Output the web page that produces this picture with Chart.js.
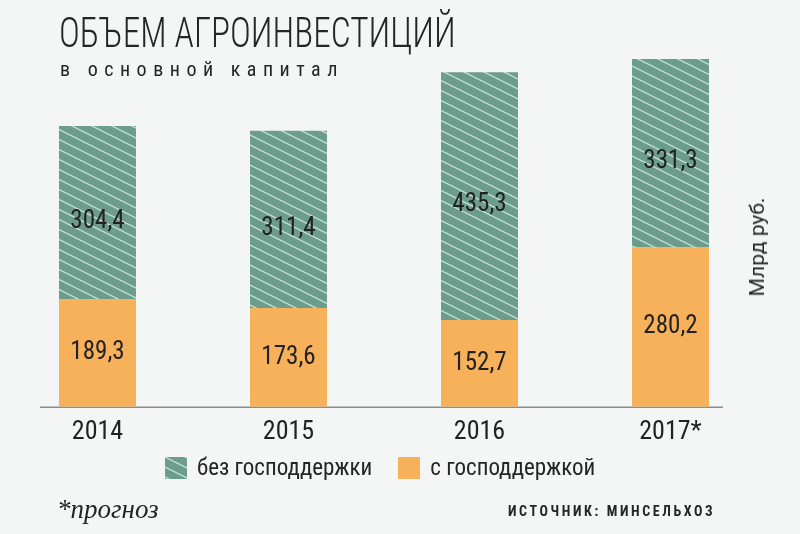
<!DOCTYPE html>
<html>
<head>
<meta charset="utf-8">
<script src="https://cdn.jsdelivr.net/npm/chart.js@4"></script>
<style>
  body { margin: 0; background: #f4f6f5; }
  #wrap { position: relative; width: 800px; height: 534px; overflow: hidden; font-family: Roboto, sans-serif; font-stretch: condensed; color: #252525; }
  #chart { position: absolute; left: 0; top: 0; }
  .title { position: absolute; left: 59px; top: 12px; font-size: 42px; font-weight: 300; line-height: 1; white-space: nowrap; transform: scaleX(0.84); transform-origin: left top; }
  .subtitle { position: absolute; left: 60px; top: 59px; font-size: 20px; line-height: 1; letter-spacing: 6.5px; white-space: nowrap; }
  .unit { position: absolute; left: 757px; top: 247px; font-stretch: normal; font-size: 21px; transform: translate(-50%, -50%) rotate(-90deg); white-space: nowrap; }
  #legend { position: absolute; left: 165px; top: 454px; display: flex; align-items: center; font-size: 23px; }
  #legend .item { display: flex; align-items: center; margin-right: 26px; }
  #legend canvas { margin-right: 10px; }
  .note { position: absolute; left: 57px; top: 494px; font-family: "Liberation Serif", serif; font-stretch: normal; font-style: italic; font-size: 27px; }
  .source { position: absolute; left: 508px; top: 504px; font-size: 14px; line-height: 1; font-weight: bold; letter-spacing: 2.6px; white-space: nowrap; }
</style>
</head>
<body>
<div id="wrap">
  <canvas id="chart" width="800" height="534"></canvas>
  <div class="title">ОБЪЕМ АГРОИНВЕСТИЦИЙ</div>
  <div class="subtitle">в основной капитал</div>
  <div class="unit">Млрд руб.</div>
  <div id="legend"></div>
  <div class="note">*прогноз</div>
  <div class="source">ИСТОЧНИК: МИНСЕЛЬХОЗ</div>
</div>
<script>
const years = ["2014", "2015", "2016", "2017*"];
const withSupport = [189.3, 173.6, 152.7, 280.2];
const withoutSupport = [304.4, 311.4, 435.3, 331.3];
const seriesNames = ["с господдержкой", "без господдержки"];

const GREEN = "#6c9c8b";
const STRIPE = "#c4e0d5";
const ORANGE = "#f7b15b";

// diagonal hatch used for the "без господдержки" part
function makeHatch(ctx) {
    const tile = document.createElement("canvas");
    tile.width = 20;
    tile.height = 10;
    const g = tile.getContext("2d");
    g.fillStyle = GREEN;
    g.fillRect(0, 0, 20, 10);
    g.strokeStyle = STRIPE;
    g.lineWidth = 1.3;
    for (let k = -2; k <= 2; k++) {
        g.beginPath();
        g.moveTo(-20, k * 10 - 10);
        g.lineTo(40, k * 10 + 20);
        g.stroke();
    }
    return ctx.createPattern(tile, "repeat");
}

const canvas = document.getElementById("chart");
const ctx = canvas.getContext("2d");
const hatch = makeHatch(ctx);

const fmt = v => v.toFixed(1).replace(".", ",");

// numbers inside the bars; the upper ones sit a little below the middle
const valueLabels = {
    id: "valueLabels",
    afterDatasetsDraw(chart) {
        const c = chart.ctx;
        c.save();
        c.font = "condensed 25px Roboto, sans-serif";
        c.fillStyle = "#222";
        c.textAlign = "center";
        c.textBaseline = "middle";
        chart.data.datasets.forEach((ds, i) => {
            const shift = i === 1 ? 9 : 0;
            chart.getDatasetMeta(i).data.forEach((bar, j) => {
                const mid = (bar.y + bar.base) / 2 + shift;
                c.fillText(fmt(ds.data[j]), bar.x, mid);
            });
        });
        c.restore();
    }
};

// baseline under the bars (shorter than the plot area, like the original)
const baseLine = {
    id: "baseLine",
    beforeDatasetsDraw(chart) {
        const c = chart.ctx;
        const a = chart.chartArea;
        const y = chart.scales.y.getPixelForValue(0);
        c.save();
        c.strokeStyle = "#8c8c8c";
        c.lineWidth = 1.5;
        c.beginPath();
        c.moveTo(a.left + 38, y + 0.5);
        c.lineTo(a.right - 43, y + 0.5);
        c.stroke();
        c.restore();
    }
};

const chart = new Chart(ctx, {
    type: "bar",
    data: {
        labels: years,
        datasets: [
            { label: seriesNames[0], data: withSupport, backgroundColor: ORANGE },
            { label: seriesNames[1], data: withoutSupport, backgroundColor: hatch }
        ]
    },
    options: {
        responsive: false,
        devicePixelRatio: 1,
        animation: false,
        layout: { padding: { top: 37, left: 2, right: 34, bottom: 76 } },
        datasets: { bar: { categoryPercentage: 1, barPercentage: 0.403 } },
        plugins: {
            legend: { display: false },
            tooltip: { enabled: false }
        },
        scales: {
            x: {
                stacked: true,
                grid: { display: false, drawTicks: false },
                border: { display: false },
                ticks: {
                    color: "#222",
                    padding: 10,
                    font: { family: "Roboto, sans-serif", size: 26, weight: "condensed" }
                }
            },
            y: {
                stacked: true,
                display: false,
                min: 0,
                max: 650
            }
        }
    },
    plugins: [baseLine, valueLabels]
});

// html legend, green series first
const legend = document.getElementById("legend");
[1, 0].forEach(i => {
    const item = document.createElement("div");
    item.className = "item";
    const sw = document.createElement("canvas");
    sw.width = 22;
    sw.height = 22;
    const sctx = sw.getContext("2d");
    sctx.fillStyle = i === 1 ? makeHatch(sctx) : ORANGE;
    sctx.fillRect(0, 0, 22, 22);
    item.appendChild(sw);
    item.appendChild(document.createTextNode(seriesNames[i]));
    legend.appendChild(item);
});
</script>
</body>
</html>
